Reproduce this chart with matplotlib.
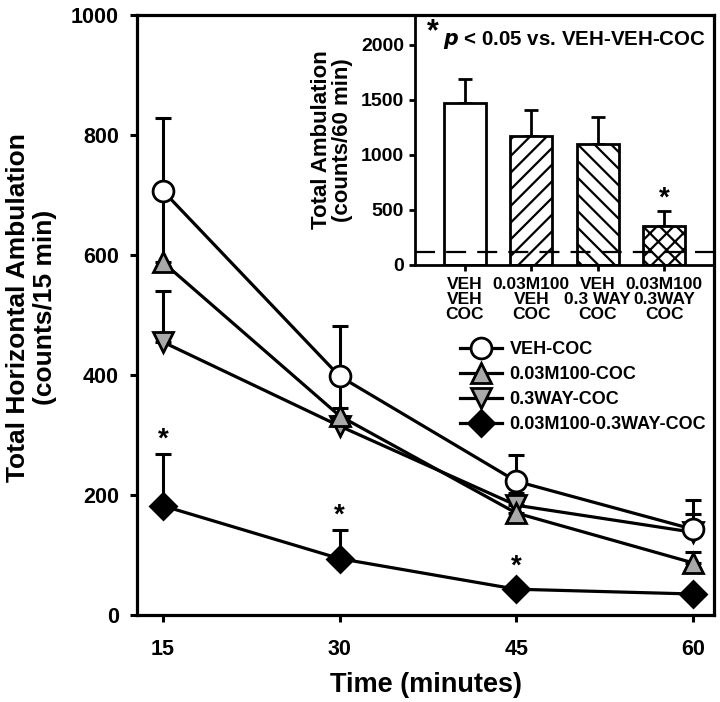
import matplotlib
matplotlib.use("Agg")
import matplotlib.pyplot as plt
import numpy as np

plt.rcParams['font.family'] = ['Liberation Sans', 'DejaVu Sans']
plt.rcParams['font.weight'] = 'bold'
plt.rcParams['hatch.linewidth'] = 1.6

# ---- main data ----
times = [15, 30, 45, 60]
series_names = ["VEH-COC", "0.03M100-COC", "0.3WAY-COC", "0.03M100-0.3WAY-COC"]
veh_coc = [707, 398, 223, 143]
veh_coc_err = [121, 84, 44, 49]
m100_coc = [588, 332, 170, 87]
m100_coc_err = [112, 58, 20, 18]
way_coc = [455, 315, 183, 138]
way_coc_err = [85, 30, 20, 30]
combo_coc = [182, 94, 43, 35]
combo_coc_err = [86, 47, 8, 5]
sig_main_times = [15, 30, 45]
sig_main_y = [292, 165, 80]

# ---- inset data ----
bar_labels = ["VEH\nVEH\nCOC", "0.03M100\nVEH\nCOC", "VEH\n0.3 WAY\nCOC", "0.03M100\n0.3WAY\nCOC"]
bar_values = [1473, 1173, 1100, 355]
bar_errs = [218, 236, 245, 136]
bar_hatches = ["", "//", "\\\\", "xx"]
baseline = 118
sig_bar_index = 3

fig = plt.figure(figsize=(7.2, 7.02), dpi=100)
ax = fig.add_axes([137/720, 1-615/702, (714-137)/720, 600/702])

gray = '#a9a9a9'
styles = [
    dict(marker='o', mfc='white', mec='black'),
    dict(marker='^', mfc=gray, mec='black'),
    dict(marker='v', mfc=gray, mec='black'),
    dict(marker='D', mfc='black', mec='black'),
]
msizes = [15, 15, 15, 13]
data = [(veh_coc, veh_coc_err), (m100_coc, m100_coc_err), (way_coc, way_coc_err), (combo_coc, combo_coc_err)]
for i in range(3, -1, -1):
    y, e = data[i]
    ax.errorbar(times, y, yerr=[np.zeros(len(e)), e], fmt='none', ecolor='black',
                elinewidth=2.2, capsize=6, capthick=2.2, zorder=2)
handles = []
for i, (y, e) in enumerate(data):
    h, = ax.plot(times, y, color='black', lw=2.3, ms=msizes[i], mew=2.0,
                 label=series_names[i], zorder=3 + (3 - i) * 0.1, **styles[i])
    handles.append(h)

for t, yv in zip(sig_main_times, sig_main_y):
    ax.text(t, yv, '*', ha='center', va='center', fontsize=20, fontweight='bold')

ax.set_xlim(12.8, 61.8)
ax.set_ylim(0, 1000)
ax.set_xticks(times)
ax.set_yticks([0, 200, 400, 600, 800, 1000])
ax.tick_params(axis='both', direction='out', length=5, width=2.2, labelsize=15.5)
ax.tick_params(axis='x', pad=12)
ax.tick_params(axis='y', pad=8)
for lab in ax.get_xticklabels() + ax.get_yticklabels():
    lab.set_fontweight('bold')
for sp in ax.spines.values():
    sp.set_linewidth(2.3)
ax.set_xlabel("Time (minutes)", fontsize=19.5, fontweight='bold', labelpad=9)
ax.set_ylabel("Total Horizontal Ambulation\n(counts/15 min)", fontsize=19, fontweight='bold')
ax.yaxis.set_label_coords(-0.138, 0.512)

leg = fig.legend(handles=handles, loc='upper left', bbox_to_anchor=(460/720, 1-341/702),
                 frameon=False, handlelength=2.3, handletextpad=0.45,
                 labelspacing=0.45, borderpad=0, borderaxespad=0, prop={'weight': 'bold', 'size': 13})

# ---- inset ----
ins = fig.add_axes([415/720, 1-265/702, (714-415)/720, 250/702])
ins.patch.set_visible(False)
xpos = np.arange(len(bar_values))
for i in range(len(bar_values)):
    ins.bar(xpos[i], bar_values[i], width=0.63, color='white', edgecolor='black',
            linewidth=2.0, hatch=bar_hatches[i], zorder=2)
ins.errorbar(xpos, bar_values, yerr=[np.zeros(len(bar_errs)), bar_errs], fmt='none',
             ecolor='black', elinewidth=2.0, capsize=5, capthick=2.0, zorder=1)
ins.axhline(baseline, color='black', lw=1.6, dashes=(9, 5), zorder=3)
ins.text(xpos[sig_bar_index], bar_values[sig_bar_index] + bar_errs[sig_bar_index] + 110, '*',
         ha='center', va='center', fontsize=20, fontweight='bold')
ins.set_xlim(-0.75, 3.75)
ins.set_ylim(0, 2270)
ins.set_yticks([0, 500, 1000, 1500, 2000])
ins.set_xticks(xpos)
ins.set_xticklabels(bar_labels, fontsize=12.5, fontweight='bold', linespacing=1.0)
ins.tick_params(axis='y', direction='out', length=4, width=2, labelsize=14, pad=4)
ins.tick_params(axis='x', direction='out', length=4, width=2, pad=5)
for lab in ins.get_yticklabels():
    lab.set_fontweight('bold')
ins.spines['top'].set_visible(False)
ins.spines['right'].set_visible(False)
ins.spines['left'].set_linewidth(2.0)
ins.spines['bottom'].set_linewidth(2.0)
ins.set_ylabel("Total Ambulation\n(counts/60 min)", fontsize=16, fontweight='bold', linespacing=1.0)
ins.yaxis.set_label_coords(-0.207, 0.5)

fig.text(433/720, 1-32/702, '*', fontsize=22, fontweight='bold', ha='center', va='center')
fig.text(443/720, 1-40/702, r'$\mathbfit{p}$ < 0.05 vs. VEH-VEH-COC', fontsize=14.8, fontweight='bold',
         ha='left', va='center')

fig.savefig('out.png', dpi=100)
